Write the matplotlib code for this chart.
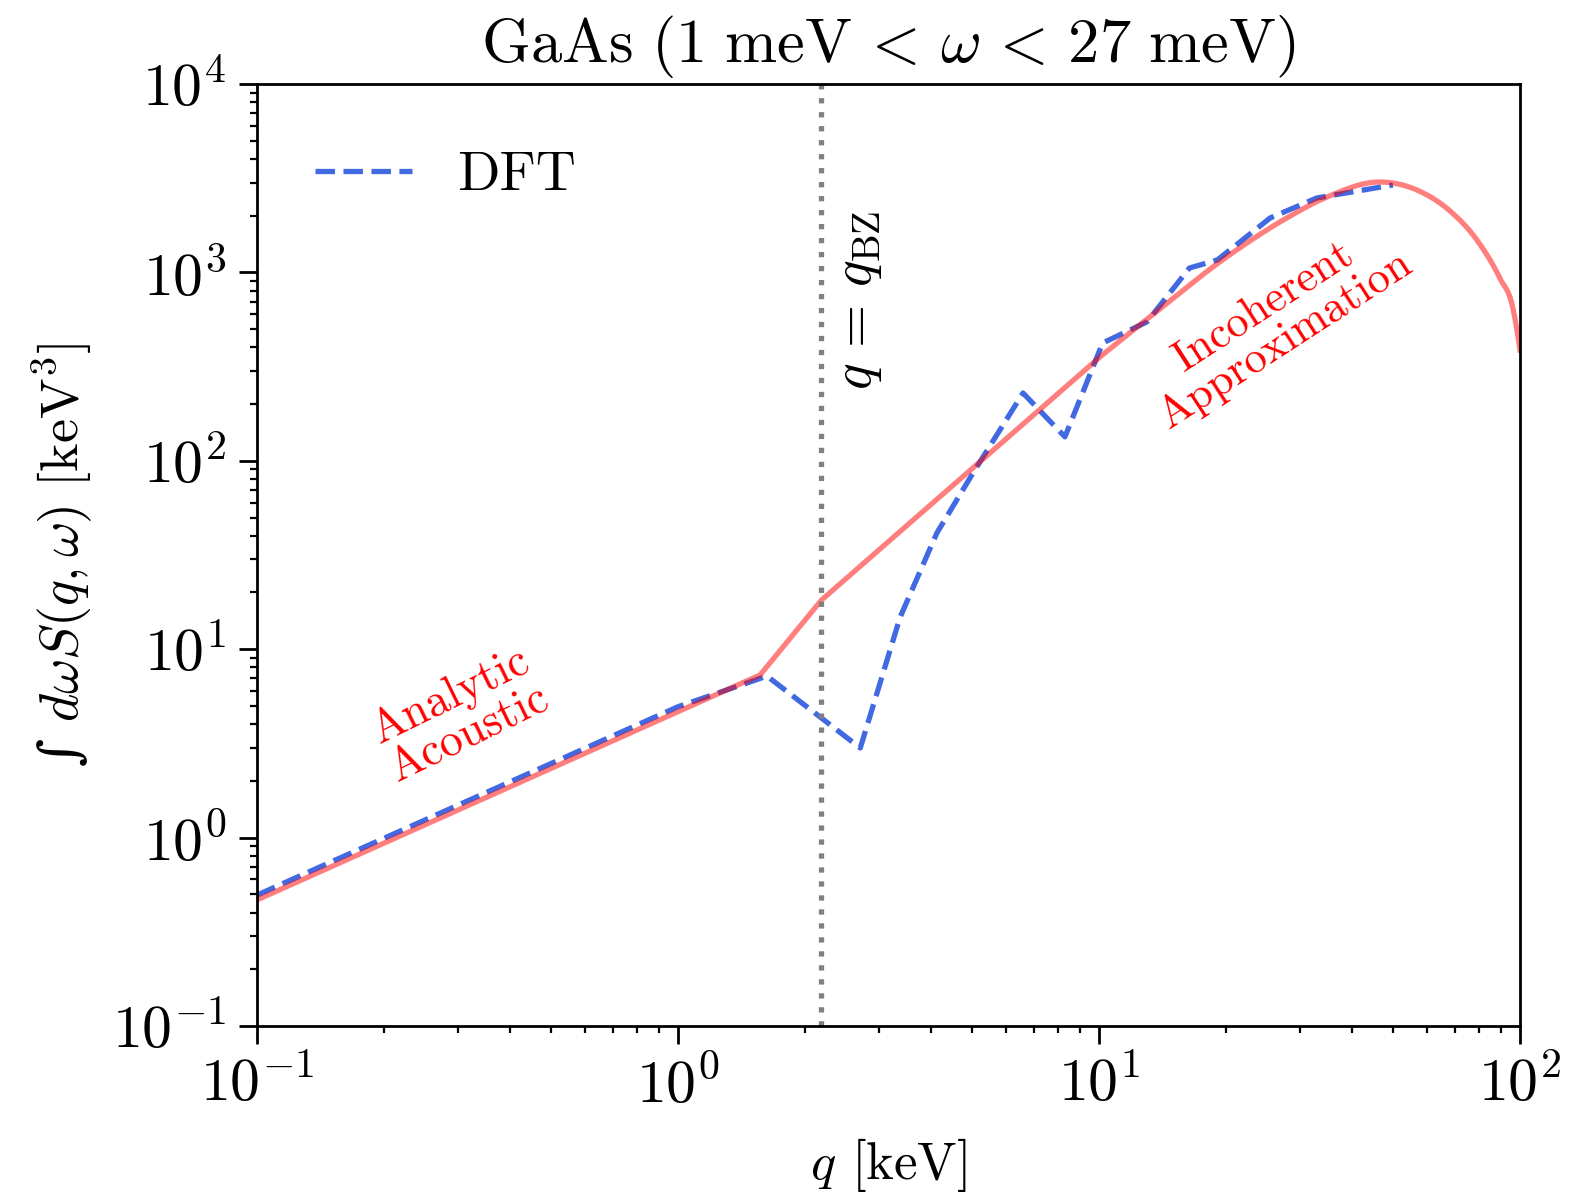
import numpy as np
import matplotlib
matplotlib.use("Agg")
import matplotlib.pyplot as plt
from matplotlib.ticker import LogLocator, NullFormatter

plt.rcParams.update({
    "font.family": "serif",
    "font.serif": ["cmr10"],
    "mathtext.fontset": "cm",
    "axes.formatter.use_mathtext": True,
    "axes.unicode_minus": False,
    "axes.linewidth": 2.0,
})

# Analytic acoustic (q < 1.57 keV) + incoherent approximation (q > q_BZ)
q_theory = [0.1, 1.567, 2.19, 10.05, 13.2, 20.1, 27.4, 34.8,
            46.5, 56.9, 68.2, 79.0, 89.6, 96.2, 100.0]
s_theory = [0.467, 7.3, 18.2, 356, 580, 1208, 1897, 2512,
            3020, 2737, 2118, 1486, 930, 645, 387]

# DFT result
q_dft = [0.1, 1.0, 1.627, 2.71, 3.37, 4.12, 5.02, 6.60, 8.30, 10.2, 13.0,
         16.4, 19.1, 25.5, 32.9, 49.9]
s_dft = [0.495, 4.95, 7.2, 2.99, 14.8, 41.4, 86.1, 229, 134, 422, 546,
         1055, 1164, 1945, 2483, 2911]

q_bz = 2.19


def parabolic_hermite(xk, yk, xf):
    """Cubic Hermite curve with slopes from local parabolas (ends included)."""
    xk = np.asarray(xk, float)
    yk = np.asarray(yk, float)
    h = np.diff(xk)
    d = np.diff(yk) / h
    m = np.empty_like(yk)
    m[1:-1] = (h[1:] * d[:-1] + h[:-1] * d[1:]) / (h[:-1] + h[1:])
    m[0] = d[0] - (d[1] - d[0]) * h[0] / (h[0] + h[1])
    m[-1] = d[-1] + (d[-1] - d[-2]) * h[-1] / (h[-2] + h[-1])
    idx = np.clip(np.searchsorted(xk, xf) - 1, 0, len(h) - 1)
    t = (xf - xk[idx]) / h[idx]
    return ((2 * t**3 - 3 * t**2 + 1) * yk[idx]
            + (t**3 - 2 * t**2 + t) * h[idx] * m[idx]
            + (-2 * t**3 + 3 * t**2) * yk[idx + 1]
            + (t**3 - t**2) * h[idx] * m[idx + 1])


# straight (power-law) pieces up to 10 keV, smooth curve above
lq = np.log10(q_theory)
lsv = np.log10(s_theory)
lq_fine = np.linspace(lq[3], lq[-1], 400)
ls_fine = parabolic_hermite(lq[3:], lsv[3:], lq_fine)
q_line = np.concatenate([q_theory[:3], 10 ** lq_fine])
s_line = np.concatenate([s_theory[:3], 10 ** ls_fine])

fig = plt.figure(figsize=(15.72, 11.96), dpi=100)
ax = fig.add_axes([257 / 1572, 170 / 1196, 1263 / 1572, 942 / 1196])

ax.plot(q_dft, s_dft, ls="--", color="royalblue", lw=3.8, label="DFT")
ax.plot(q_line, s_line, color="red", alpha=0.5, lw=3.8)
ax.axvline(q_bz, color="gray", ls=":", lw=3.8)

ax.set_xscale("log")
ax.set_yscale("log")
ax.set_xlim(0.1, 100)
ax.set_ylim(0.1, 1e4)

ax.tick_params(which="major", length=13, width=2.0, labelsize=43, pad=9,
               top=False, right=False, direction="out")
ax.tick_params(which="minor", length=5, width=1.6, top=False, right=False)
for axis in (ax.xaxis, ax.yaxis):
    axis.set_minor_locator(LogLocator(base=10, subs=np.arange(2, 10), numticks=20))
    axis.set_minor_formatter(NullFormatter())

ax.set_xlabel(r"$q$ [keV]", fontsize=38, labelpad=16)
ax.set_ylabel("\u222B $d\\omega S(q,\\omega)\\ [\\mathrm{keV}^3]$", fontsize=39,
              labelpad=12, family="DejaVu Serif")
ax.set_title(r"$\mathrm{GaAs\ (1\ meV}\,<\,\omega\,<\,\mathrm{27\ meV)}$",
             fontsize=45, pad=16)

ax.legend(loc="center left", frameon=False, fontsize=40, handlelength=1.75,
          handletextpad=0.8, borderpad=0, borderaxespad=0,
          bbox_to_anchor=(0.046, 0.902))

ax.text(2.70, 713, r"$q\,=\,q_{\rm BZ}$", rotation=90, fontsize=40,
        ha="center", va="center")
ax.text(0.303, 4.48, "Analytic\nAcoustic", color="red", rotation=26,
        fontsize=33, ha="center", va="center", linespacing=1.0,
        rotation_mode="anchor")
ax.text(26.2, 538, "Incoherent\nApproximation", color="red", rotation=33,
        fontsize=32, ha="center", va="center", linespacing=1.0,
        rotation_mode="anchor")

fig.savefig("out.png", dpi=100)
